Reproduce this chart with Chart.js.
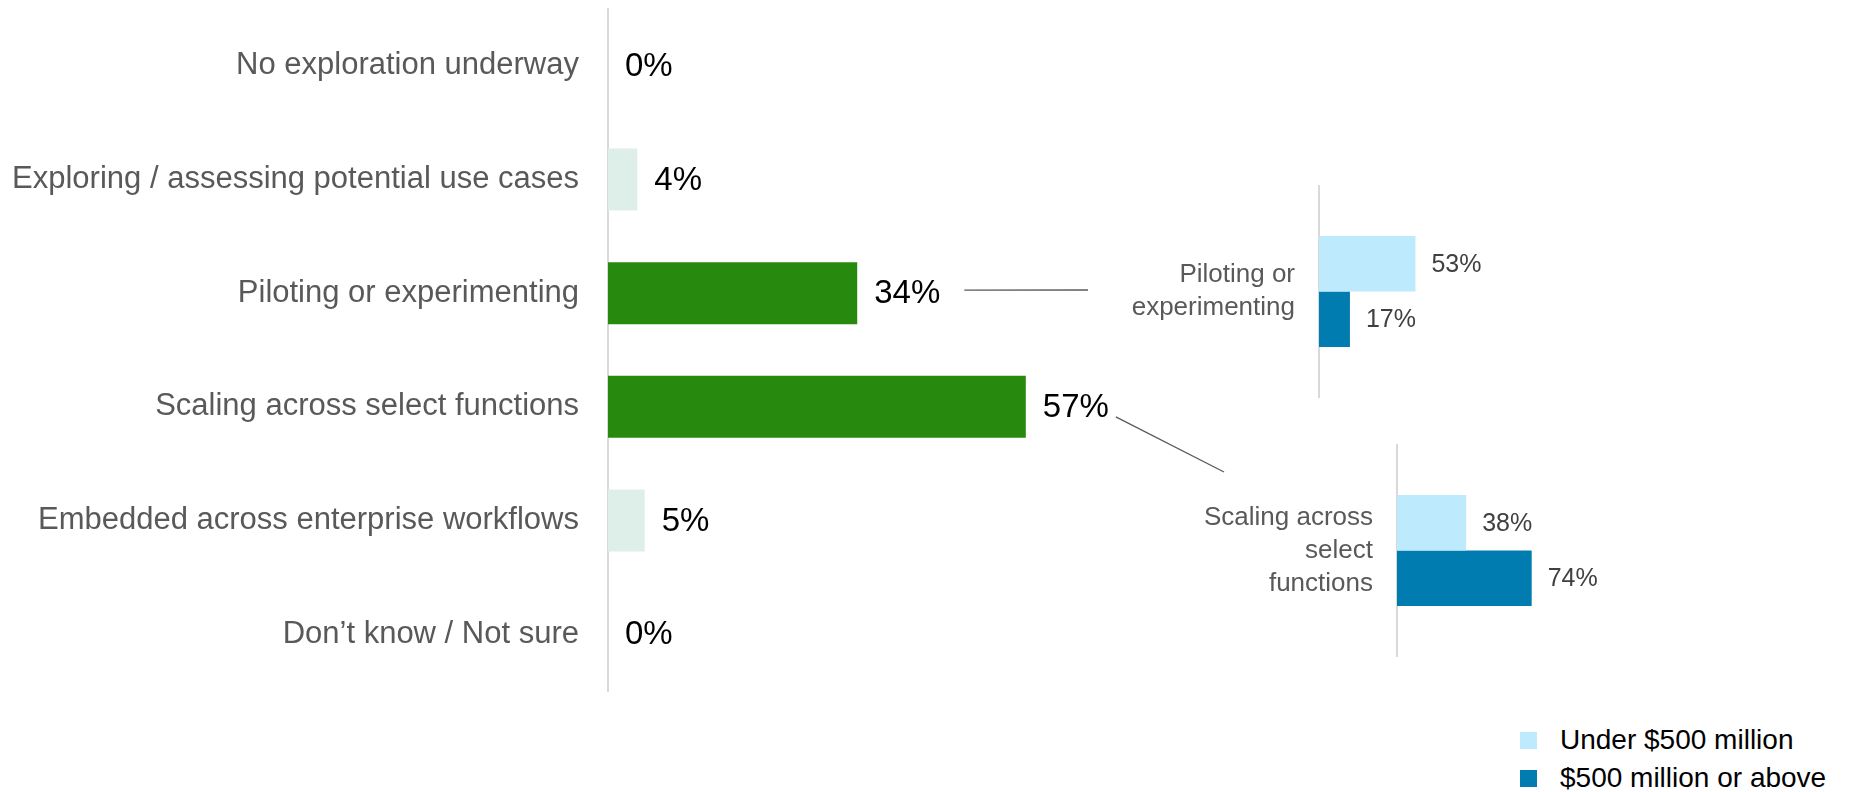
<!DOCTYPE html>
<html>
<head>
<meta charset="utf-8">
<script src="https://cdn.jsdelivr.net/npm/chart.js@4.4.1/dist/chart.umd.min.js"></script>
<style>
  html, body { margin: 0; padding: 0; background: #fff; }
  #wrap { position: relative; width: 1858px; height: 792px; overflow: hidden; font-family: 'Liberation Sans', Arial, sans-serif; }
  canvas { position: absolute; }
  #mainChart { left: 0; top: 0; }
  #pilotChart { left: 1100px; top: 150px; }
  #scaleChart { left: 1100px; top: 410px; }
  #legend { position: absolute; left: 1520px; top: 721px; }
  .item { display: flex; align-items: center; height: 38px; font-size: 28px; color: #000; }
  .swatch { width: 17px; height: 17px; margin-right: 23px; }
</style>
</head>
<body>
<div id="wrap">
  <canvas id="mainChart" width="1341" height="792"></canvas>
  <canvas id="pilotChart" width="430" height="280"></canvas>
  <canvas id="scaleChart" width="520" height="280"></canvas>
  <div id="legend"></div>
</div>
<script>
// data
const stages = [
    'No exploration underway',
    'Exploring / assessing potential use cases',
    'Piloting or experimenting',
    'Scaling across select functions',
    'Embedded across enterprise workflows',
    'Don\u2019t know / Not sure'
];
const stageShares = [0, 4, 34, 57, 5, 0];
const highlighted = [false, false, true, true, false, false];

const sizeGroups = ['Under $500 million', '$500 million or above'];
const pilotingLabel = ['Piloting or', 'experimenting'];
const pilotingShares = [53, 17];
const scalingLabel = ['Scaling across', 'select', 'functions'];
const scalingShares = [38, 74];

// colours
const GREEN = '#278a0e';
const MINT = '#deefe9';
const SIZE_COLORS = ['#bdeafd', '#007cb1'];
const LABEL_GREY = '#595959';
const AXIS_GREY = '#d9d9d9';
const FONT = "'Liberation Sans', Arial, sans-serif";

Chart.defaults.font.family = FONT;
Chart.defaults.animation = false;

// value labels at the end of each bar
const valueLabels = {
    id: 'valueLabels',
    afterDatasetsDraw(chart, args, opts) {
        const ctx = chart.ctx;
        ctx.save();
        ctx.font = opts.font;
        ctx.fillStyle = opts.color;
        ctx.textAlign = 'left';
        ctx.textBaseline = 'middle';
        chart.data.datasets.forEach((ds, i) => {
            chart.getDatasetMeta(i).data.forEach((bar, j) => {
                ctx.fillText(ds.data[j] + '%', bar.x + opts.offset, bar.y + 1);
            });
        });
        ctx.restore();
    }
};

// leader lines from the highlighted main bars to the breakdown charts
const connectors = [
    { index: 2, gap: 24, dy: -3, toX: 1088, toY: 290 },
    { index: 3, gap: 7, dy: 10, toX: 1224, toY: 472 }
];
const connectorLines = {
    id: 'connectorLines',
    afterDraw(chart, args, opts) {
        const ctx = chart.ctx;
        const bars = chart.getDatasetMeta(0).data;
        ctx.save();
        ctx.font = opts.font;
        ctx.strokeStyle = '#595959';
        ctx.lineWidth = 1.3;
        connectors.forEach(c => {
            const bar = bars[c.index];
            const w = ctx.measureText(stageShares[c.index] + '%').width;
            const x0 = bar.x + opts.offset + w + c.gap;
            ctx.beginPath();
            ctx.moveTo(x0, bar.y + c.dy);
            ctx.lineTo(c.toX, c.toY);
            ctx.stroke();
        });
        ctx.restore();
    }
};

function yAxis(width, fontSize, lineHeight, padding) {
    return {
        afterFit(scale) {
            scale.width = width;
            // keep the chart area where the layout padding puts it
            scale.paddingTop = 0;
            scale.paddingBottom = 0;
        },
        grid: { display: false },
        border: { display: true, color: AXIS_GREY, width: 2 },
        ticks: {
            color: LABEL_GREY,
            padding: padding,
            font: { size: fontSize, lineHeight: lineHeight }
        }
    };
}

// main chart
new Chart(document.getElementById('mainChart'), {
    type: 'bar',
    data: {
        labels: stages,
        datasets: [{
            data: stageShares,
            backgroundColor: highlighted.map(h => h ? GREEN : MINT),
            barPercentage: 0.545,
            categoryPercentage: 1
        }]
    },
    options: {
        indexAxis: 'y',
        responsive: false,
        layout: { padding: { top: 9, bottom: 101, left: 0, right: 0 } },
        scales: {
            x: { display: false, min: 0, max: 100 },
            y: yAxis(608, 31, 1.2, 21)
        },
        plugins: {
            legend: { display: false },
            tooltip: { enabled: false },
            valueLabels: { font: '33px ' + FONT, color: '#000', offset: 17 },
            connectorLines: { font: '33px ' + FONT, offset: 17 }
        }
    },
    plugins: [valueLabels, connectorLines]
});

// breakdown charts
function breakdown(id, label, shares, axisWidth, padTop, padBottom, padRight) {
    new Chart(document.getElementById(id), {
        type: 'bar',
        data: {
            labels: [label],
            datasets: sizeGroups.map((g, i) => ({
                label: g,
                data: [shares[i]],
                backgroundColor: SIZE_COLORS[i],
                barPercentage: 1,
                categoryPercentage: 0.526
            }))
        },
        options: {
            indexAxis: 'y',
            responsive: false,
            layout: { padding: { top: padTop, bottom: padBottom, left: 0, right: padRight } },
            scales: {
                x: { display: false, min: 0, max: 100 },
                y: yAxis(axisWidth, 26, 1.27, 16)
            },
            plugins: {
                legend: { display: false },
                tooltip: { enabled: false },
                valueLabels: { font: '25px ' + FONT, color: '#404040', offset: 16 }
            }
        },
        plugins: [valueLabels]
    });
}

breakdown('pilotChart', pilotingLabel, pilotingShares, 219, 36, 33, 29);
breakdown('scaleChart', scalingLabel, scalingShares, 297, 35, 34, 41);

// legend
document.getElementById('legend').innerHTML = sizeGroups.map((g, i) => `
    <div class="item"><span class="swatch" style="background:${SIZE_COLORS[i]}"></span>${g}</div>
`).join('');
</script>
</body>
</html>
